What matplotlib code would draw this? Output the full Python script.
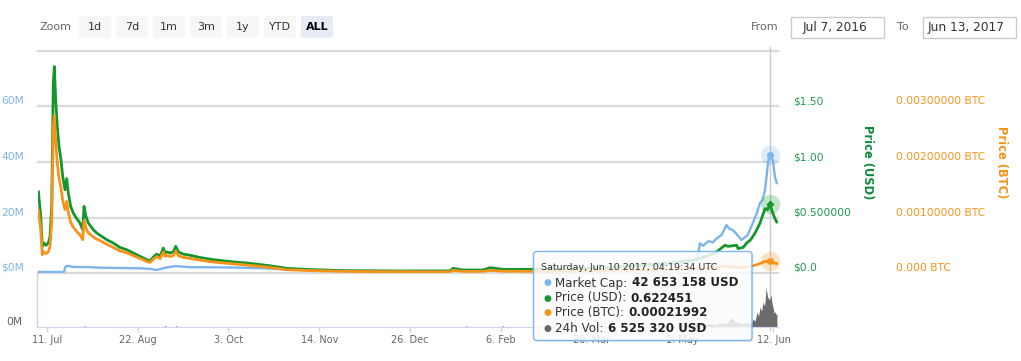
import matplotlib
matplotlib.use("Agg")
import matplotlib.pyplot as plt
import matplotlib.transforms as mtransforms
from matplotlib.patches import FancyBboxPatch, Rectangle
from matplotlib.lines import Line2D
from datetime import datetime, timedelta

plt.rcParams['font.family'] = ['DejaVu Sans']

# ---------------- data ----------------
start_date = "2016-07-07"

price_days = [0.2, 1.25, 1.99, 2.77, 3.70, 4.76, 5.55, 6.33, 7.07, 7.54, 8.18, 8.92, 9.71,
              10.63, 11.42, 12.48, 13.27, 14.01, 15.12, 16.32, 17.89, 19.42, 20.67, 21.27,
              22.19, 23.25, 25.57, 27.14, 28.66, 31.76, 34.81, 37.91, 41.01, 44.06, 47.16,
              50.25, 51.78, 53.63, 54.88, 56.40, 57.93, 58.71, 59.50, 61.03, 62.55, 63.66,
              64.86, 67.18, 70.27, 74.90, 81.04, 90.29, 98.01, 107.26, 114.98, 127.14,
              142.72, 165.51, 190.48, 191.86, 196.49, 205.73, 208.97, 214.98, 227.46,
              241.34, 259.82, 278.32, 296.81, 306.06, 313.0, 317.6, 319.0, 323.0, 323.6,
              326.0, 327.6, 329.5, 331.5, 333.8, 336.1, 337.3, 338.18, 339.7, 340.7, 341.5]

price_usd = [0.73, 0.51, 0.24, 0.27, 0.25, 0.27, 0.33, 0.60, 1.71, 1.86, 1.56, 1.32, 1.14,
             1.02, 0.87, 0.75, 0.85, 0.72, 0.60, 0.54, 0.49, 0.45, 0.39, 0.60,
             0.51, 0.45, 0.39, 0.36, 0.34, 0.30, 0.27, 0.23, 0.21, 0.18, 0.15,
             0.12, 0.11, 0.15, 0.17, 0.15, 0.225, 0.18, 0.19, 0.18, 0.19, 0.24,
             0.19, 0.17, 0.16, 0.14, 0.12, 0.10, 0.087, 0.065, 0.042, 0.030,
             0.021, 0.018, 0.018, 0.042, 0.027, 0.027, 0.048, 0.033, 0.033,
             0.035, 0.045, 0.07, 0.10, 0.13, 0.18, 0.25, 0.24, 0.25, 0.22,
             0.23, 0.27, 0.30, 0.36, 0.45, 0.58, 0.57, 0.622451, 0.54, 0.49, 0.46]

price_btc = [0.001123, 0.000785, 0.00033, 0.00038, 0.00035, 0.00038, 0.000480, 0.000916,
             0.00261, 0.00284, 0.00236, 0.00200, 0.00171,
             0.00153, 0.00131, 0.00114, 0.00129, 0.00109, 0.00091, 0.000824, 0.000748,
             0.000687, 0.00060, 0.000938,
             0.00081, 0.000726, 0.00065, 0.00061, 0.000586, 0.000517, 0.000462, 0.000397,
             0.000365, 0.000313, 0.000261,
             0.000209, 0.000191, 0.000261, 0.000296, 0.000259, 0.000378, 0.000300, 0.000314,
             0.000298, 0.000314, 0.000397,
             0.000314, 0.000281, 0.000264, 0.000231, 0.000197, 0.000164, 0.000137,
             0.000100, 0.000059, 0.000042,
             0.0000284, 0.0000234, 0.000020, 0.0000467, 0.0000293, 0.0000284, 0.0000471,
             0.000032, 0.000030,
             0.0000297, 0.0000429, 0.0000583, 0.0000769, 0.0000743, 0.00010, 0.000125,
             0.000114, 0.000109, 0.0000978,
             0.0000990, 0.000110, 0.000120, 0.000141, 0.00017, 0.00021, 0.000204,
             0.00021992, 0.000188, 0.000178, 0.00017]

mcap_days = [0.2, 12.0, 12.7, 13.9, 15.7, 24.0, 28.7, 37.9, 47.2, 51.8, 54.9, 57.5, 59.5,
             63.7, 70.0, 88.8, 104.0, 115.1, 130.4, 167.4, 190.5, 213.6, 241.3, 259.8,
             282.9, 296.8, 304.7, 306.0, 307.5, 310.0, 312.0, 313.5, 316.0, 318.3, 319.5,
             321.2, 323.0, 325.2, 328.1, 330.4, 332.3, 333.7, 335.0, 336.1, 337.5, 338.18,
             339.7, 340.7, 341.5]
mcap_musd = [0.36, 0.36, 2.3, 2.6, 2.2, 2.1, 1.9, 1.8, 1.7, 1.5, 1.1, 1.6, 2.0,
             2.5, 2.1, 2.0, 1.7, 1.3, 0.8, 0.7, 0.75, 0.8, 1.0, 1.5,
             2.5, 3.5, 4.5, 10.7, 9.8, 11.5, 11.0, 12.3, 13.7, 17.3, 16.0,
             15.5, 14.0, 11.9, 13.7, 17.9, 21.5, 25.1, 26.5, 29.9, 39.6, 42.653158,
             40.7, 34.7, 32.4]

vol_days = [0.2, 21.1, 21.7, 22.3, 58.1, 58.7, 59.3, 63.3, 63.9, 64.5, 197.4, 198.0, 198.6,
            214.4, 215.0, 215.6, 296.0, 300.0, 303.0, 306.0, 308.0, 310.7, 313.0, 315.3,
            318.0, 320.7, 321.8, 323.0, 325.0, 327.7, 329.5, 330.6, 331.5, 332.4, 333.1,
            333.8, 334.5, 335.2, 335.9, 336.6, 337.3, 338.18, 338.9, 339.4, 339.8, 340.3,
            340.7, 341.2, 341.6]
vol_musd = [0.02, 0.02, 0.35, 0.02, 0.02, 0.4, 0.02, 0.02, 0.35, 0.02, 0.02, 0.35, 0.02,
            0.02, 0.35, 0.02, 0.1, 0.6, 0.9, 1.0, 0.7, 0.8, 0.6, 1.0,
            0.8, 2.4, 1.3, 1.2, 0.9, 1.0, 0.8, 1.9, 1.4, 3.6, 2.6,
            4.8, 3.8, 6.0, 5.0, 9.4, 7.2, 6.525320, 7.7, 5.5, 4.8, 3.2,
            3.8, 2.9, 3.4]

x_tick_dates = ["2016-07-11", "2016-08-22", "2016-10-03", "2016-11-14", "2016-12-26",
                "2017-02-06", "2017-03-20", "2017-05-01", "2017-06-12"]
x_tick_labels = ["11. Jul", "22. Aug", "3. Oct", "14. Nov", "26. Dec",
                 "6. Feb", "20. Mar", "1. May", "12. Jun"]

mcap_ticks = [0, 20, 40, 60]
mcap_labels = ["$0M", "20M", "40M", "60M"]
usd_ticks = [0, 0.5, 1.0, 1.5]
usd_labels = ["$0.0", "$0.500000", "$1.00", "$1.50"]
btc_ticks = [0, 0.001, 0.002, 0.003]
btc_labels = ["0.000 BTC", "0.00100000 BTC", "0.00200000 BTC", "0.00300000 BTC"]

hover_day = 338.18
tooltip_header = "Saturday, Jun 10 2017, 04:19:34 UTC"
tooltip_rows = [("Market Cap: ", "42 653 158 USD"),
                ("Price (USD): ", "0.622451"),
                ("Price (BTC): ", "0.00021992"),
                ("24h Vol: ", "6 525 320 USD")]

zoom_buttons = ["1d", "7d", "1m", "3m", "1y", "YTD", "ALL"]
from_date_text = "Jul 7, 2016"
to_date_text = "Jun 13, 2017"

# ---------------- colours ----------------
C_MCAP = '#7cb5ec'
C_USD = '#14962c'
C_USD_LAB = '#1c9a4c'
C_USD_TITLE = '#0c8c3a'
C_BTC = '#f7931a'
C_VOL = '#6b6b6b'
C_GRID = '#dadada'
C_AXIS = '#ccd6eb'

# ---------------- figure ----------------
W, H, DPI = 1021, 361, 100
fig = plt.figure(figsize=(W / DPI, H / DPI), dpi=DPI)
fig.patch.set_facecolor('white')


def fx(x):
    return x / W


def fy(y):
    return 1 - y / H


base = datetime.strptime(start_date, "%Y-%m-%d")


def to_dates(days):
    return [base + timedelta(days=d) for d in days]


X0, X1 = 38, 778
TOP, MID, BOT = 51, 273, 327
ax = fig.add_axes([fx(X0), fy(MID), (X1 - X0) / W, (MID - TOP) / H])
axv = fig.add_axes([fx(X0), fy(BOT), (X1 - X0) / W, (BOT - MID) / H])
xmin, xmax = base, base + timedelta(days=342.1)
for a in (ax, axv):
    a.set_xlim(xmin, xmax)
    a.set_facecolor('none')
    for s in a.spines.values():
        s.set_visible(False)
ax.set_xticks([])
ax.set_yticks([])
ax.set_ylim(0, 80)

ax_usd = ax.twinx()
ax_btc = ax.twinx()
ax_usd.set_ylim(0, 2.0)
ax_btc.set_ylim(0, 0.004)
for a in (ax_usd, ax_btc):
    a.set_xlim(xmin, xmax)
    a.axis('off')

# grid lines
for v in mcap_ticks + [80]:
    ax.axhline(v, color=C_GRID, lw=1.6, zorder=0, clip_on=False)

hover_dt = base + timedelta(days=hover_day)
ax.axvline(hover_dt, ymin=0, ymax=1.02, color='#cccccc', lw=1, zorder=1, clip_on=False)
axv.axvline(hover_dt, ymin=-0.05, ymax=1, color='#cccccc', lw=1, zorder=1, clip_on=False)

# series
ax.plot(to_dates(mcap_days), mcap_musd, color=C_MCAP, lw=1.7, zorder=3, solid_joinstyle='round')
ax_usd.plot(to_dates(price_days), price_usd, color=C_USD, lw=2, zorder=3, solid_joinstyle='round')
ax_btc.plot(to_dates(price_days), price_btc, color=C_BTC, lw=2, zorder=3, solid_joinstyle='round')

# hover markers
hm = mcap_musd[mcap_days.index(hover_day)]
hu = price_usd[price_days.index(hover_day)]
hb = price_btc[price_days.index(hover_day)]
ax.plot([hover_dt], [hm], 'o', ms=14, color=C_MCAP, alpha=0.25, mec='none', zorder=5, clip_on=False)
ax.plot([hover_dt], [hm], 'o', ms=5, color=C_MCAP, mec='none', zorder=6, clip_on=False)
ax_usd.plot([hover_dt], [hu], 'o', ms=14, color=C_USD, alpha=0.25, mec='none', zorder=5, clip_on=False)
ax_usd.plot([hover_dt], [hu], 'D', ms=4.5, color=C_USD, mec='none', zorder=6, clip_on=False)
ax_btc.plot([hover_dt], [hb], 'o', ms=14, color=C_BTC, alpha=0.25, mec='none', zorder=5, clip_on=False)
ax_btc.plot([hover_dt], [hb], 's', ms=5, color=C_BTC, mec='none', zorder=6, clip_on=False)

# volume panel
axv.fill_between(to_dates(vol_days), vol_musd, 0, color=C_VOL, lw=0, zorder=2)
axv.set_ylim(0, 13)
axv.set_yticks([])
axv.spines['bottom'].set_visible(True)
axv.spines['bottom'].set_color(C_AXIS)
axv.set_xticks([datetime.strptime(d, "%Y-%m-%d") for d in x_tick_dates])
axv.set_xticklabels(x_tick_labels)
axv.tick_params(axis='x', length=3.6, width=1, color=C_AXIS, labelcolor='#666666',
                labelsize=7, pad=2.2)
fig.add_artist(Line2D([fx(37), fx(37)], [fy(MID), fy(BOT)], color=C_AXIS, lw=1))

# axis labels
bl = mtransforms.blended_transform_factory(ax.transAxes, ax.transData)
tl = mtransforms.offset_copy(bl, fig=fig, x=-14, y=5, units='dots')
for v, lab in zip(mcap_ticks, mcap_labels):
    ax.text(0, v, lab, transform=tl, ha='right', va='center', color=C_MCAP, fontsize=7.7)

bu = mtransforms.blended_transform_factory(ax_usd.transAxes, ax_usd.transData)
tu = mtransforms.offset_copy(bu, fig=fig, x=15, y=5, units='dots')
for v, lab in zip(usd_ticks, usd_labels):
    ax_usd.text(1, v, lab, transform=tu, ha='left', va='center', color=C_USD_LAB, fontsize=7.7)

bb = mtransforms.blended_transform_factory(ax_btc.transAxes, ax_btc.transData)
tb = mtransforms.offset_copy(bb, fig=fig, x=118, y=5, units='dots')
for v, lab in zip(btc_ticks, btc_labels):
    ax_btc.text(1, v, lab, transform=tb, ha='left', va='center', color=C_BTC, fontsize=7.7)

bv = mtransforms.blended_transform_factory(axv.transAxes, axv.transData)
tv = mtransforms.offset_copy(bv, fig=fig, x=-16, y=5, units='dots')
axv.text(0, 0, "0M", transform=tv, ha='right', va='center', color='#606060', fontsize=7.7)

fig.text(fx(867), fy(162), "Price (USD)", rotation=270, ha='center', va='center',
         fontsize=8.3, fontweight='bold', color=C_USD_TITLE)
fig.text(fx(1001), fy(162), "Price (BTC)", rotation=270, ha='center', va='center',
         fontsize=8.3, fontweight='bold', color=C_BTC)

# ---------------- header ----------------
ident = mtransforms.IdentityTransform()
fig.text(fx(55), fy(27), "Zoom", ha='center', va='center', fontsize=8, color='#666666')
btn_x = [79, 116, 153, 190, 227, 264, 301]
for bx, lab in zip(btn_x, zoom_buttons):
    sel = lab == "ALL"
    p = FancyBboxPatch((bx, H - 38), 32, 22, boxstyle="round,pad=0,rounding_size=2",
                       transform=ident, fc='#e6ebf5' if sel else '#f7f7f7', ec='none')
    fig.add_artist(p)
    fig.text(fx(bx + 16), fy(27), lab, ha='center', va='center', fontsize=8,
             color='#000000' if sel else '#333333', fontweight='bold' if sel else 'normal')

fig.text(fx(765), fy(27), "From", ha='center', va='center', fontsize=8, color='#666666')
fig.add_artist(Rectangle((790.5, H - 38), 93.5, 21, transform=ident, fc='white', ec='#cccccc', lw=1))
fig.text(fx(834.5), fy(27), from_date_text, ha='center', va='center', fontsize=8.7, color='#333333')
fig.text(fx(903), fy(27), "To", ha='center', va='center', fontsize=8, color='#666666')
fig.add_artist(Rectangle((922.5, H - 38), 93.5, 21, transform=ident, fc='white', ec='#cccccc', lw=1))
fig.text(fx(965.5), fy(27), to_date_text, ha='center', va='center', fontsize=8.7, color='#333333')

# ---------------- tooltip ----------------
shadow = FancyBboxPatch((534.5, H - 342), 219, 89, boxstyle="round,pad=0,rounding_size=3",
                        transform=ident, fc=(0, 0, 0, 0.07), ec='none')
fig.add_artist(shadow)
tip = FancyBboxPatch((533.5, H - 340.5), 218.5, 89, boxstyle="round,pad=0,rounding_size=3",
                     transform=ident, fc=(1, 1, 1, 0.84), ec=C_MCAP, lw=1)
fig.add_artist(tip)
fig.text(fx(541), fy(268), tooltip_header, ha='left', va='center', fontsize=6.8, color='#333333')
renderer = fig.canvas.get_renderer()
row_y = [283, 298, 312.7, 328]
row_colors = [C_MCAP, C_USD, C_BTC, '#666666']
for (lab, val), yy, col in zip(tooltip_rows, row_y, row_colors):
    fig.text(fx(547), fy(yy), "\u25CF", ha='center', va='center', fontsize=6.5, color=col)
    t = fig.text(fx(555), fy(yy), lab.strip(), ha='left', va='center', fontsize=8.6, color='#333333')
    ext = t.get_window_extent(renderer)
    fig.text((ext.x1 + 4.5) / W, fy(yy), val, ha='left', va='center', fontsize=8.6,
             fontweight='bold', color='#222222')

fig.savefig("out.png", dpi=DPI)
